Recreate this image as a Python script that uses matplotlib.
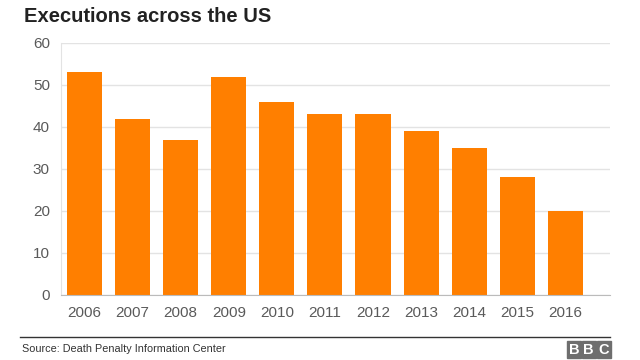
import matplotlib.pyplot as plt
from matplotlib.patches import Rectangle
from matplotlib.lines import Line2D

years = ['2006', '2007', '2008', '2009', '2010', '2011', '2012', '2013', '2014', '2015', '2016']
executions = [53, 42, 37, 52, 46, 43, 43, 39, 35, 28, 20]

plt.rcParams['font.family'] = ['Liberation Sans', 'DejaVu Sans']

fig = plt.figure(figsize=(6.4, 3.6), dpi=100)
ax = fig.add_axes([61 / 640, 1 - 295 / 360, 549 / 640, 252 / 360])

x = range(len(years))
ax.bar(x, executions, width=0.73, color='#ff7f00', zorder=3)

ax.set_xlim(-0.49, 10.93)
ax.set_ylim(0, 60)
ax.set_yticks(range(0, 61, 10))
ax.set_xticks(list(x))
ax.set_xticklabels(years)
ax.grid(axis='y', color='#e3e3e3', linewidth=1, zorder=0)

for s in ['top', 'right']:
    ax.spines[s].set_visible(False)
ax.spines['left'].set_color('#e3e3e3')
ax.spines['bottom'].set_color('#bbbbbb')
ax.spines['bottom'].set_zorder(4)
ax.tick_params(axis='both', length=0, labelsize=11, labelcolor='#5a5a5a')
ax.tick_params(axis='x', pad=8)
ax.tick_params(axis='y', pad=8)

fig.text(24 / 640, 1 - 17 / 360, 'Executions across the US', fontsize=14.5,
         fontweight='bold', color='#222222', va='center', ha='left')

fig.add_artist(Line2D([20 / 640, 610 / 640], [1 - 337 / 360, 1 - 337 / 360],
                      color='#333333', linewidth=1))
fig.text(22 / 640, 1 - 349 / 360, 'Source: Death Penalty Information Center',
         fontsize=7.8, color='#333333', va='center', ha='left')

# BBC blocks
for i, letter in enumerate('BBC'):
    x0 = 567 + i * 15
    fig.add_artist(Rectangle((x0 / 640, 1 - 358 / 360), 13.5 / 640, 17 / 360,
                             transform=fig.transFigure, color='#6e6e6e'))
    fig.text((x0 + 6.75) / 640, 1 - 349.5 / 360, letter, fontsize=10.5,
             fontweight='bold', color='white', ha='center', va='center')

fig.savefig('out.png', dpi=100)
